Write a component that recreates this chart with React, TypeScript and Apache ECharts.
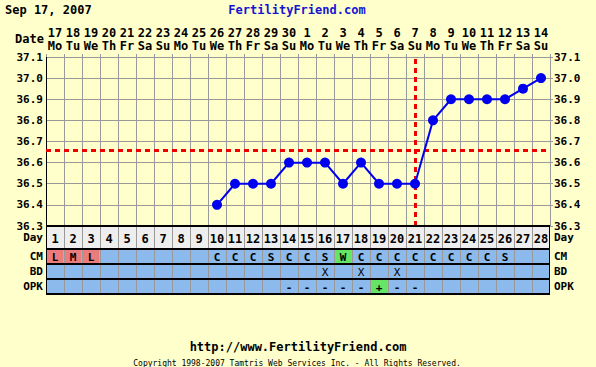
import React, { useEffect, useRef } from 'react';
import * as echarts from 'echarts';

const chartDate = 'Sep 17, 2007';
const siteName = 'FertilityFriend.com';
const siteUrl = 'http://www.FertilityFriend.com';
const copyright = 'Copyright 1998-2007 Tamtris Web Services Inc. - All Rights Reserved.';

const cycleDays = ['1','2','3','4','5','6','7','8','9','10','11','12','13','14','15','16','17','18','19','20','21','22','23','24','25','26','27','28'];
const dateNums = ['17','18','19','20','21','22','23','24','25','26','27','28','29','30','1','2','3','4','5','6','7','8','9','10','11','12','13','14'];
const weekdays = ['Mo','Tu','We','Th','Fr','Sa','Su','Mo','Tu','We','Th','Fr','Sa','Su','Mo','Tu','We','Th','Fr','Sa','Su','Mo','Tu','We','Th','Fr','Sa','Su'];
const temps: (number | null)[] = [null,null,null,null,null,null,null,null,null,36.4,36.5,36.5,36.5,36.6,36.6,36.6,36.5,36.6,36.5,36.5,36.5,36.8,36.9,36.9,36.9,36.9,36.95,37.0];
const coverline = 36.655;
const ovulationDay = '21';
const tempMin = 36.3;
const tempMax = 37.1;
const tempStep = 0.1;

const rowNames = ['CM', 'BD', 'OPK'];
const cmValues = ['L','M','L','','','','','','','C','C','C','S','C','C','S','W','C','C','C','C','C','C','C','C','S','',''];
const bdValues = ['','','','','','','','','','','','','','','','X','','X','','X','','','','','','','',''];
const opkValues = ['','','','','','','','','','','','','','-','-','-','-','-','+','-','-','','','','','','',''];

const FONT = '"DejaVu Sans Mono", monospace';
const BLUE_CELL = '#8CBAEC';
const PINK_CELL = '#EC7B7B';
const GREEN_CELL = '#66E466';

function cellColor(row: number, v: string): string {
  if (row === 0 && (v === 'L' || v === 'M' || v === 'H')) return PINK_CELL;
  if (row === 0 && v === 'W') return GREEN_CELL;
  if (row === 2 && v === '+') return GREEN_CELL;
  return BLUE_CELL;
}

const rowValues = [cmValues, bdValues, opkValues];
const rowCells: [number, number][] = [];
rowValues.forEach((vals, r) => vals.forEach((_, i) => rowCells.push([i, r])));

export default function App() {
  const ref = useRef<HTMLDivElement>(null);
  useEffect(() => {
    if (!ref.current) return;
    const chart = echarts.init(ref.current, null, { renderer: 'svg' });
    const boldLabel = { fontFamily: FONT, fontWeight: 'bold' as const, fontSize: 12, color: '#000' };
    const catHidden = (gi: number) => ({ gridIndex: gi, type: 'category' as const, data: cycleDays, show: false, boundaryGap: true });
    const rowAxis = (gi: number, data: string[], pos: 'left' | 'right', padTop: number) => ({
      gridIndex: gi, type: 'category' as const, data, inverse: true, position: pos,
      axisLine: { show: false }, axisTick: { show: false }, splitLine: { show: false },
      axisLabel: {
        ...boldLabel, fontSize: 11, interval: 0, lineHeight: 11,
        padding: [padTop, 0, 0, 0],
        margin: pos === 'left' ? 3 : 4, align: pos === 'left' ? 'right' : 'left',
      },
    });

    const cellEdges = (x0: number, y0: number, w: number, h: number, i: number, last: boolean) => {
      const els: any[] = [];
      els.push({ type: 'line', shape: { x1: x0 + 0.5, y1: y0, x2: x0 + 0.5, y2: y0 + h }, style: { stroke: i === 0 ? '#000' : '#999', lineWidth: 1 } });
      if (i === cycleDays.length - 1) {
        els.push({ type: 'line', shape: { x1: x0 + w - 0.5, y1: y0, x2: x0 + w - 0.5, y2: y0 + h }, style: { stroke: '#000', lineWidth: 1 } });
      }
      els.push({ type: 'line', shape: { x1: x0, y1: y0, x2: x0 + w, y2: y0 }, style: { stroke: '#000', lineWidth: 2 } });
      if (last) {
        els.push({ type: 'line', shape: { x1: x0, y1: y0 + h, x2: x0 + w, y2: y0 + h }, style: { stroke: '#000', lineWidth: 2 } });
      }
      return els;
    };

    const option: any = {
      animation: false,
      backgroundColor: '#FFFFCC',
      graphic: [
        { type: 'text', x: 5, y: 10, style: { text: chartDate, font: `bold 12px ${FONT}`, fill: '#000', verticalAlign: 'middle', textVerticalAlign: 'middle' } },
        { type: 'text', x: 297, y: 10, style: { text: siteName, font: `bold 12px ${FONT}`, fill: '#1414D2', align: 'center', textAlign: 'center', verticalAlign: 'middle', textVerticalAlign: 'middle' } },
        { type: 'text', x: 44, y: 39, style: { text: 'Date', font: `bold 12px ${FONT}`, fill: '#000', align: 'right', textAlign: 'right', verticalAlign: 'middle', textVerticalAlign: 'middle' } },
        { type: 'text', x: 298, y: 347, style: { text: siteUrl, font: `bold 12px ${FONT}`, fill: '#000', align: 'center', textAlign: 'center', verticalAlign: 'middle', textVerticalAlign: 'middle' } },
        { type: 'text', x: 297, y: 363, style: { text: copyright, font: `8px ${FONT}`, fill: '#000', align: 'center', textAlign: 'center', verticalAlign: 'middle', textVerticalAlign: 'middle' } },
      ],
      grid: [
        { left: 46, top: 57, width: 504, height: 169 },
        { left: 46, top: 226, width: 504, height: 23 },
        { left: 46, top: 249, width: 504, height: 45 },
      ],
      xAxis: [
        {
          gridIndex: 0, type: 'category', data: cycleDays, position: 'top', boundaryGap: true,
          axisLine: { show: false },
          axisTick: { show: true, length: 3, interval: 0, lineStyle: { color: '#999' } },
          axisLabel: {
            interval: 0, margin: 5,
            formatter: (_v: string, i: number) => `{a|${dateNums[i]}}\n{b|${weekdays[i]}}`,
            rich: {
              a: { fontFamily: FONT, fontWeight: 'bold', fontSize: 12, color: '#000', lineHeight: 13 },
              b: { fontFamily: FONT, fontWeight: 'bold', fontSize: 12, color: '#000', lineHeight: 13 },
            },
          },
          splitLine: { show: true, interval: 0, lineStyle: { color: '#999', width: 1 } },
        },
        catHidden(1),
        catHidden(2),
      ],
      yAxis: [
        {
          gridIndex: 0, type: 'value', min: tempMin, max: tempMax, interval: tempStep, position: 'left',
          axisLine: { show: true, lineStyle: { color: '#000', width: 1 } },
          axisTick: { show: false },
          axisLabel: { ...boldLabel, fontSize: 11, lineHeight: 11, margin: 3, formatter: (v: number) => v.toFixed(1) },
          splitLine: { show: true, lineStyle: { color: '#999', width: 1 } },
        },
        {
          gridIndex: 0, type: 'value', min: tempMin, max: tempMax, interval: tempStep, position: 'right',
          axisLine: { show: false },
          axisTick: { show: true, length: 3, lineStyle: { color: '#999' } },
          axisLabel: { ...boldLabel, fontSize: 11, lineHeight: 11, margin: 4, formatter: (v: number) => v.toFixed(1) },
          splitLine: { show: false },
        },
        rowAxis(1, ['Day'], 'left', 5),
        rowAxis(1, ['Day'], 'right', 5),
        rowAxis(2, rowNames, 'left', 0),
        rowAxis(2, rowNames, 'right', 0),
      ],
      series: [
        {
          type: 'line', xAxisIndex: 0, yAxisIndex: 0, data: temps,
          symbol: 'circle', symbolSize: 10, z: 5,
          itemStyle: { color: '#0000EE' },
          lineStyle: { color: '#0000EE', width: 2 },
          markLine: {
            silent: true, symbol: ['none', 'none'], label: { show: false }, z: 3,
            lineStyle: { color: '#EE0000', width: 3, type: [5, 4] },
            data: [{ yAxis: coverline }, { xAxis: ovulationDay }],
          },
        },
        {
          type: 'custom', xAxisIndex: 1, yAxisIndex: 2, z: 4,
          data: cycleDays.map((_, i) => [i, 0]),
          renderItem: (params: any, api: any) => {
            const i = api.value(0);
            const c = api.coord([i, 0]);
            const s = api.size([1, 1]);
            const x0 = c[0] - s[0] / 2, y0 = c[1] - s[1] / 2;
            return {
              type: 'group',
              children: [
                { type: 'rect', shape: { x: x0, y: y0, width: s[0], height: s[1] }, style: { fill: '#EEEEEE' } },
                ...cellEdges(x0, y0, s[0], s[1], i, false),
                { type: 'text', style: { text: cycleDays[i], x: c[0], y: c[1] + 1, align: 'center', verticalAlign: 'middle', font: `bold 12px ${FONT}`, fill: '#000' } },
              ],
            };
          },
        },
        {
          type: 'custom', xAxisIndex: 2, yAxisIndex: 4, z: 4,
          data: rowCells,
          renderItem: (params: any, api: any) => {
            const i = api.value(0);
            const r = api.value(1);
            const v = rowValues[r][i];
            const c = api.coord([i, r]);
            const s = api.size([1, 1]);
            const x0 = c[0] - s[0] / 2, y0 = c[1] - s[1] / 2;
            const col = cellColor(r, v);
            const children: any[] = [
              { type: 'rect', shape: { x: x0, y: y0, width: s[0], height: s[1] }, style: { fill: BLUE_CELL } },
            ];
            if (col !== BLUE_CELL) {
              children.push({ type: 'rect', shape: { x: x0 + 1, y: y0 + 1, width: s[0] - 2, height: s[1] - 2 }, style: { fill: col } });
            }
            children.push(...cellEdges(x0, y0, s[0], s[1], i, r === rowNames.length - 1));
            if (v) {
              children.push({ type: 'text', style: { text: v, x: c[0], y: c[1] + 1, align: 'center', verticalAlign: 'middle', font: `${v === 'X' ? '' : 'bold '}11px ${FONT}`, fill: '#000' } });
            }
            return { type: 'group', children };
          },
        },
      ],
    };
    chart.setOption(option);
    return () => chart.dispose();
  }, []);
  return <div ref={ref} style={{ position: 'absolute', left: 0, top: 0, width: 596, height: 367 }} />;
}
